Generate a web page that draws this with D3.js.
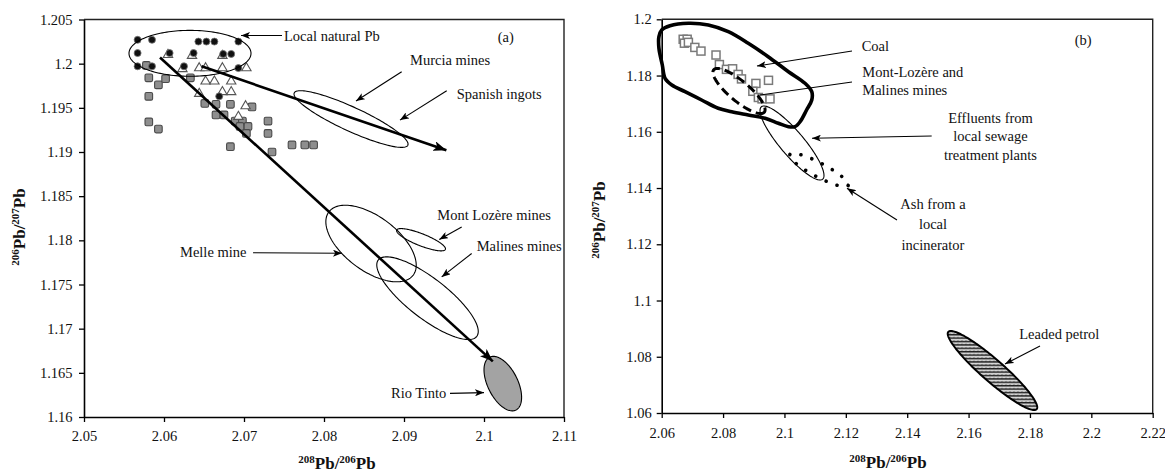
<!DOCTYPE html>
<html><head><meta charset="utf-8">
<script src="https://cdn.jsdelivr.net/npm/d3@7"></script>
<style>
body{margin:0;background:#fff}
svg{display:block}
text{font-family:"Liberation Serif","Times New Roman",serif;fill:#111}
</style>
</head><body>
<svg id="chart" width="1165" height="474"></svg>
<script>
// ---------------- Panel (a) data ----------------
const aXTicks = [2.05, 2.06, 2.07, 2.08, 2.09, 2.10, 2.11];
const aXTickLabels = ["2.05", "2.06", "2.07", "2.08", "2.09", "2.1", "2.11"];
const aYTicks = [1.16, 1.165, 1.17, 1.175, 1.18, 1.185, 1.19, 1.195, 1.2, 1.205];
const aYTickLabels = ["1.16", "1.165", "1.17", "1.175", "1.18", "1.185", "1.19", "1.195", "1.2", "1.205"];

const aCircleX = [2.0567, 2.0585, 2.0643, 2.0653, 2.0663, 2.0693, 2.0567, 2.0607, 2.0637, 2.0674, 2.0684, 2.0567, 2.0585, 2.0625, 2.0693, 2.0669];
const aCircleY = [1.2027, 1.2027, 1.2025, 1.2025, 1.2025, 1.2025, 1.2012, 1.2012, 1.2012, 1.2011, 1.2011, 1.1997, 1.1997, 1.1997, 1.1995, 1.1963];

const aTriangleX = [2.0605, 2.0635, 2.0673, 2.0623, 2.0644, 2.0652, 2.0673, 2.0703, 2.0652, 2.0663, 2.0684, 2.0673, 2.0684, 2.0644, 2.0702, 2.0693];
const aTriangleY = [1.2010, 1.2009, 1.2009, 1.1994, 1.1995, 1.1995, 1.1995, 1.1995, 1.1980, 1.1980, 1.1980, 1.1968, 1.1968, 1.1966, 1.1952, 1.1940];

const aSquareX = [2.0578, 2.0581, 2.0593, 2.0602, 2.0581, 2.0581, 2.0593, 2.0633, 2.0651, 2.0665, 2.0665, 2.0675, 2.0683, 2.0710, 2.0689, 2.0698, 2.0695, 2.0705, 2.0703, 2.0730, 2.0730, 2.0683, 2.0735, 2.0760, 2.0776, 2.0787];
const aSquareY = [1.1998, 1.1984, 1.1976, 1.1983, 1.1963, 1.1934, 1.1926, 1.1984, 1.1955, 1.1954, 1.1942, 1.1942, 1.1954, 1.1951, 1.1935, 1.1935, 1.1929, 1.1929, 1.1921, 1.1935, 1.1921, 1.1906, 1.1900, 1.1908, 1.1908, 1.1908];

// source fields (ellipses): centre + two conjugate semi-axes, data units
const aEllipseNames = ["Local natural Pb", "Murcia mines", "Melle mine", "Mont Lozère mines", "Malines mines", "Rio Tinto"];
const aEllipseCX = [2.06325, 2.08338, 2.08588, 2.09213, 2.09294, 2.10235];
const aEllipseCY = [1.20117, 1.19373, 1.17964, 1.18007, 1.17345, 1.16378];
const aEllipseAX = [0.007625, 0.0071, 0.005275, 0.003045, 0.006154, 0.001645];
const aEllipseAY = [0, -0.00296, -0.003577, -0.001092, -0.004326, -0.002991];
const aEllipseBX = [0, -0.000627, -0.002021, -0.000276, -0.001532, -0.001678];
const aEllipseBY = [0.0026, -0.001235, -0.00245, -0.000632, -0.00179, -0.000758];

// mixing trend arrows
const aTrendX1 = [2.0595, 2.0647];
const aTrendY1 = [1.2007, 1.1997];
const aTrendX2 = [2.1011, 2.0953];
const aTrendY2 = [1.1663, 1.1902];

// labels and pointer arrows
const aLabelText = ["Local natural Pb", "(a)", "Murcia mines", "Spanish ingots", "Melle mine", "Mont Lozère mines", "Malines mines", "Rio Tinto"];
const aLabelX = [2.0750, 2.10272, 2.09075, 2.09659, 2.0620, 2.09416, 2.09909, 2.08838];
const aLabelY = [1.20313, 1.20298, 1.20041, 1.19656, 1.17866, 1.18285, 1.17937, 1.16265];
const aLabelAnchor = ["start", "middle", "start", "start", "start", "start", "start", "start"];
const aArrowX1 = [2.07475, 2.08971, 2.09534, 2.07113, 2.09721, 2.09846, 2.09575];
const aArrowY1 = [1.20319, 1.19909, 1.19693, 1.17860, 1.18152, 1.17851, 1.16268];
const aArrowX2 = [2.06963, 2.08400, 2.08950, 2.08225, 2.09441, 2.09471, 2.10000];
const aArrowY2 = [1.20319, 1.19577, 1.19361, 1.17854, 1.18010, 1.17586, 1.16276];

// ---------------- Panel (b) data ----------------
const bXTicks = [2.06, 2.08, 2.10, 2.12, 2.14, 2.16, 2.18, 2.20, 2.22];
const bXTickLabels = ["2.06", "2.08", "2.1", "2.12", "2.14", "2.16", "2.18", "2.2", "2.22"];
const bYTicks = [1.06, 1.08, 1.10, 1.12, 1.14, 1.16, 1.18, 1.20];
const bYTickLabels = ["1.06", "1.08", "1.1", "1.12", "1.14", "1.16", "1.18", "1.2"];

const bSquareX = [2.0670, 2.0683, 2.0674, 2.0687, 2.0708, 2.0728, 2.0777, 2.0788, 2.0811, 2.0831, 2.0849, 2.0860, 2.0907, 2.0948, 2.0897, 2.0915, 2.0927, 2.0953];
const bSquareY = [1.1929, 1.1929, 1.1915, 1.1918, 1.1900, 1.1887, 1.1873, 1.1839, 1.1822, 1.1824, 1.1804, 1.1788, 1.1772, 1.1783, 1.1744, 1.1722, 1.1717, 1.1717];

const bCoalX = [2.0600, 2.0627, 2.0687, 2.0752, 2.0817, 2.0882, 2.0947, 2.1013, 2.1067, 2.1089, 2.1089, 2.1072, 2.1051, 2.1034, 2.1013, 2.0980, 2.0937, 2.0882, 2.0828, 2.0784, 2.0730, 2.0676, 2.0633, 2.0611, 2.0602, 2.0591, 2.0591];
const bCoalY = [1.19619, 1.19772, 1.19858, 1.19797, 1.19559, 1.19147, 1.18670, 1.18137, 1.17724, 1.17425, 1.17130, 1.16775, 1.16358, 1.16181, 1.16181, 1.16302, 1.16479, 1.16597, 1.16714, 1.16835, 1.17130, 1.17425, 1.17664, 1.17902, 1.18375, 1.18969, 1.19381];

const bEllipseNames = ["Mont-Lozère and Malines mines", "Effluents", "Ash", "Leaded petrol"];
const bEllipseCX = [2.08519, 2.10246, 2.11126, 2.16779];
const bEllipseCY = [1.17450, 1.15601, 1.14641, 1.07511];
const bEllipseAX = [0.008237, 0.009987, 0.009495, 0.014392];
const bEllipseAY = [-0.007543, -0.012859, -0.005509, -0.013748];
const bEllipseBX = [-0.002095, -0.002981, -0.001071, -0.002362];
const bEllipseBY = [-0.002724, -0.00276, -0.002198, -0.002944];

const bLabelText = ["(b)", "Coal", "Mont-Lozère and", "Malines mines", "Effluents from", "local sewage", "treatment plants", "Ash from a", "local", "incinerator", "Leaded petrol"];
const bLabelX = [2.19737, 2.12517, 2.12536, 2.12536, 2.16714, 2.16714, 2.16714, 2.1484, 2.1484, 2.1484, 2.17652];
const bLabelY = [1.19239, 1.19026, 1.18101, 1.17461, 1.16479, 1.15825, 1.15174, 1.13432, 1.12703, 1.11974, 1.0880];
const bLabelAnchor = ["middle", "start", "start", "start", "middle", "middle", "middle", "middle", "middle", "middle", "start"];
const bArrowX1 = [2.12201, 2.12201, 2.14798, 2.13667, 2.18327];
const bArrowY1 = [1.18873, 1.17770, 1.15850, 1.12863, 1.08382];
const bArrowX2 = [2.09105, 2.09203, 2.10897, 2.12038, 2.17186];
const bArrowY2 = [1.18339, 1.17308, 1.15768, 1.13990, 1.07742];
const bArrowHead = [true, false, true, true, true];

// ---------------- drawing ----------------
const svg = d3.select("#chart");
const defs = svg.append("defs");
function marker(id, w, h) {
  defs.append("marker").attr("id", id).attr("markerUnits", "userSpaceOnUse")
    .attr("markerWidth", w).attr("markerHeight", h).attr("refX", w).attr("refY", h / 2)
    .attr("orient", "auto")
    .append("path").attr("d", `M0,0 L${w},${h / 2} L0,${h} L${w * 0.25},${h / 2} Z`).attr("fill", "#000");
}
marker("arrThin", 9, 7);
marker("arrThick", 13, 10);
const pat = defs.append("pattern").attr("id", "zig").attr("patternUnits", "userSpaceOnUse")
  .attr("width", 4).attr("height", 3.4);
pat.append("rect").attr("width", 4).attr("height", 3.4).attr("fill", "#fff");
pat.append("path").attr("d", "M0,0.7 L1,2.4 L2,0.7 L3,2.4 L4,0.7").attr("stroke", "#000")
  .attr("stroke-width", 0.9).attr("fill", "none");

const FS = 14.5;

function ellipsePath(x, y, cx, cy, ax, ay, bx, by) {
  const pts = d3.range(0, 160).map(i => {
    const t = i / 160 * 2 * Math.PI;
    return [x(cx + ax * Math.cos(t) + bx * Math.sin(t)), y(cy + ay * Math.cos(t) + by * Math.sin(t))];
  });
  return d3.line().curve(d3.curveLinearClosed)(pts);
}

function frame(x, y, xt, xtl, yt, ytl, xpad, ypad) {
  const [x0, x1] = x.range();
  const [y0, y1] = y.range();
  const gx = svg.append("g").attr("transform", `translate(0,${y0})`)
    .call(d3.axisBottom(x).tickValues(xt).tickFormat((d, i) => xtl[i]).tickSize(5).tickSizeOuter(0).tickPadding(xpad));
  const gy = svg.append("g").attr("transform", `translate(${x0},0)`)
    .call(d3.axisLeft(y).tickValues(yt).tickFormat((d, i) => ytl[i]).tickSize(5).tickSizeOuter(0).tickPadding(ypad));
  [gx, gy].forEach(g => {
    g.selectAll("text").attr("font-size", FS).attr("font-family", '"Liberation Serif",serif').attr("fill", "#111");
    g.selectAll("line").attr("stroke", "#000").attr("stroke-width", 1.3);
    g.select(".domain").attr("stroke", "#000").attr("stroke-width", 1.6);
  });
  svg.append("path").attr("d", `M${x0},${y1}L${x1},${y1}L${x1},${y0}`)
    .attr("fill", "none").attr("stroke", "#222").attr("stroke-width", 1.4);
}

function axisTitle(tx, ty, rotate, a, b) {
  const t = svg.append("text").attr("transform", `translate(${tx},${ty})` + (rotate ? " rotate(-90)" : ""))
    .attr("text-anchor", "middle").attr("font-weight", "bold").attr("font-size", 17);
  t.append("tspan").attr("font-size", 11).attr("dy", -6).text(a);
  t.append("tspan").attr("dy", 6).text("Pb/");
  t.append("tspan").attr("font-size", 11).attr("dy", -6).text(b);
  t.append("tspan").attr("dy", 6).text("Pb");
}

// ----- Panel (a)
{
  const x = d3.scaleLinear().domain([2.05, 2.11]).range([84, 564]);
  const y = d3.scaleLinear().domain([1.16, 1.205]).range([417, 19.5]);
  frame(x, y, aXTicks, aXTickLabels, aYTicks, aYTickLabels, 8.5, 6.5);
  axisTitle(337, 469, false, "208", "206");
  axisTitle(25, 227, true, "206", "207");

  const g = svg.append("g");
  g.selectAll("rect.sq").data(aSquareX).join("rect").attr("class", "sq")
    .attr("x", (d, i) => x(d) - 3.8).attr("y", (d, i) => y(aSquareY[i]) - 3.8)
    .attr("width", 7.6).attr("height", 7.6).attr("rx", 1.5)
    .attr("fill", "#8e8e8e").attr("stroke", "#4a4a4a").attr("stroke-width", 1.1);
  const tri = d3.symbol().type(d3.symbolTriangle).size(38);
  g.selectAll("path.tri").data(aTriangleX).join("path").attr("class", "tri")
    .attr("d", tri).attr("transform", (d, i) => `translate(${x(d)},${y(aTriangleY[i])})`)
    .attr("fill", "#fff").attr("stroke", "#555").attr("stroke-width", 1.1);
  g.selectAll("circle.ci").data(aCircleX).join("circle").attr("class", "ci")
    .attr("cx", d => x(d)).attr("cy", (d, i) => y(aCircleY[i])).attr("r", 3.5)
    .attr("fill", "#111").attr("stroke", "#777").attr("stroke-width", 0.8);

  aEllipseNames.forEach((n, i) => {
    g.append("path").attr("d", ellipsePath(x, y, aEllipseCX[i], aEllipseCY[i], aEllipseAX[i], aEllipseAY[i], aEllipseBX[i], aEllipseBY[i]))
      .attr("fill", n === "Rio Tinto" ? "#a3a3a3" : "none").attr("stroke", "#000").attr("stroke-width", 1.1);
  });
  aTrendX1.forEach((d, i) => {
    g.append("line").attr("x1", x(d)).attr("y1", y(aTrendY1[i])).attr("x2", x(aTrendX2[i])).attr("y2", y(aTrendY2[i]))
      .attr("stroke", "#000").attr("stroke-width", 2.6).attr("marker-end", "url(#arrThick)");
  });
  aArrowX1.forEach((d, i) => {
    g.append("line").attr("x1", x(d)).attr("y1", y(aArrowY1[i])).attr("x2", x(aArrowX2[i])).attr("y2", y(aArrowY2[i]))
      .attr("stroke", "#000").attr("stroke-width", 1.1).attr("marker-end", "url(#arrThin)");
  });
  aLabelText.forEach((t, i) => {
    g.append("text").attr("x", x(aLabelX[i])).attr("y", y(aLabelY[i])).attr("dy", "0.33em")
      .attr("text-anchor", aLabelAnchor[i]).attr("font-size", FS).text(t);
  });
}

// ----- Panel (b)
{
  const x = d3.scaleLinear().domain([2.06, 2.22]).range([661.7, 1152.7]);
  const y = d3.scaleLinear().domain([1.06, 1.2]).range([413, 19.3]);
  frame(x, y, bXTicks, bXTickLabels, bYTicks, bYTickLabels, 9.5, 5);
  axisTitle(888, 468, false, "208", "206");
  axisTitle(605, 220, true, "206", "207");

  const g = svg.append("g");
  g.selectAll("rect.sq").data(bSquareX).join("rect").attr("class", "sq")
    .attr("x", d => x(d) - 4).attr("y", (d, i) => y(bSquareY[i]) - 4)
    .attr("width", 8).attr("height", 8)
    .attr("fill", "#fff").attr("stroke", "#7a7a7a").attr("stroke-width", 1.5);

  const coal = bCoalX.map((d, i) => [x(d), y(bCoalY[i])]);
  g.append("path").attr("d", d3.line().curve(d3.curveCatmullRomClosed)(coal))
    .attr("fill", "none").attr("stroke", "#000").attr("stroke-width", 3.6).attr("stroke-linejoin", "round");

  const styles = [
    {fill: "none", sw: 3, dash: "9,5", cap: "butt"},
    {fill: "none", sw: 1.1, dash: null, cap: "butt"},
    {fill: "none", sw: 3.6, dash: "0.1,11.5", cap: "round"},
    {fill: "url(#zig)", sw: 2, dash: null, cap: "butt"}
  ];
  bEllipseNames.forEach((n, i) => {
    const s = styles[i];
    g.append("path").attr("d", ellipsePath(x, y, bEllipseCX[i], bEllipseCY[i], bEllipseAX[i], bEllipseAY[i], bEllipseBX[i], bEllipseBY[i]))
      .attr("fill", s.fill).attr("stroke", "#000").attr("stroke-width", s.sw)
      .attr("stroke-dasharray", s.dash).attr("stroke-linecap", s.cap);
  });
  bArrowX1.forEach((d, i) => {
    g.append("line").attr("x1", x(d)).attr("y1", y(bArrowY1[i])).attr("x2", x(bArrowX2[i])).attr("y2", y(bArrowY2[i]))
      .attr("stroke", "#000").attr("stroke-width", 1.1).attr("marker-end", bArrowHead[i] ? "url(#arrThin)" : null);
  });
  bLabelText.forEach((t, i) => {
    g.append("text").attr("x", x(bLabelX[i])).attr("y", y(bLabelY[i])).attr("dy", "0.33em")
      .attr("text-anchor", bLabelAnchor[i]).attr("font-size", FS).text(t);
  });
}
</script>
</body></html>
